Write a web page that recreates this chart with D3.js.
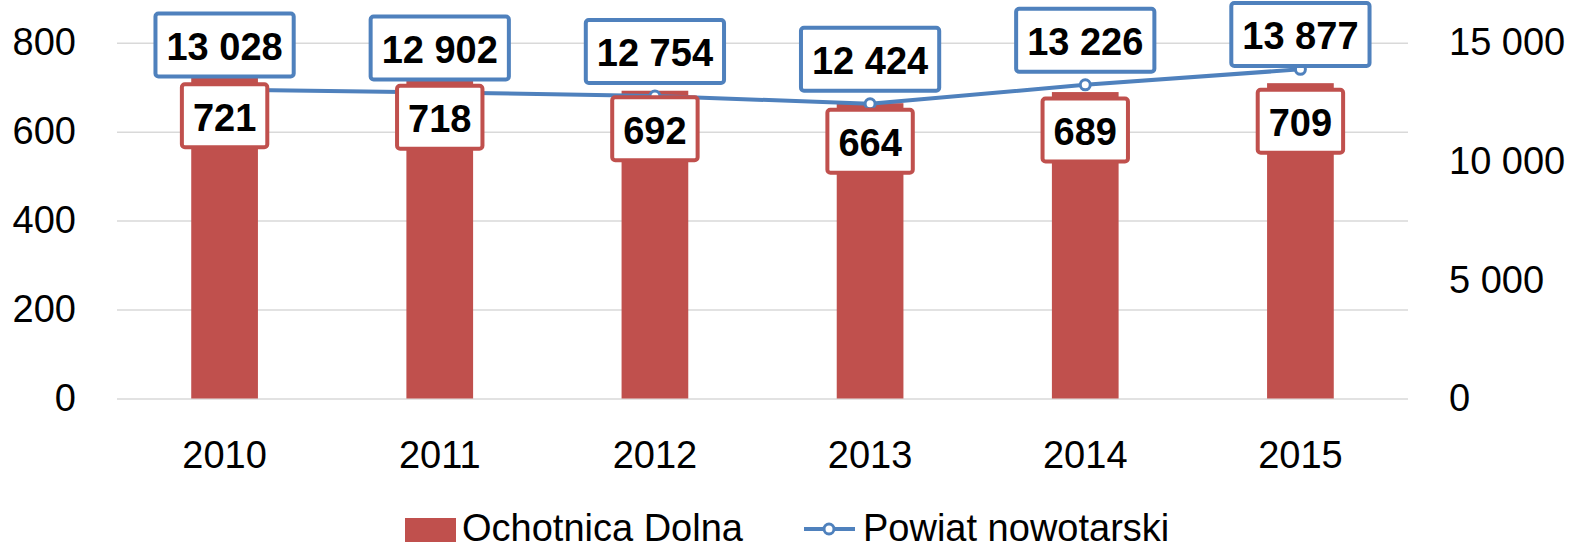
<!DOCTYPE html>
<html>
<head>
<meta charset="utf-8">
<script src="https://cdn.jsdelivr.net/npm/d3@7"></script>
<style>
  body { margin: 0; background: #fff; }
  svg { display: block; font-family: "Liberation Sans", Arial, sans-serif; }
</style>
</head>
<body>
<svg id="chart"></svg>
<script>
// data
const years = ['2010', '2011', '2012', '2013', '2014', '2015'];
const gminaValues = [721, 718, 692, 664, 689, 709];          // Ochotnica Dolna (left axis)
const powiatValues = [13028, 12902, 12754, 12424, 13226, 13877]; // Powiat nowotarski (right axis)
const leftTicks = [0, 200, 400, 600, 800];
const rightTicks = [0, 5000, 10000, 15000];
const seriesNames = ['Ochotnica Dolna', 'Powiat nowotarski'];

const width = 1571, height = 546;
const plot = { left: 117, right: 1408, top: 42.7, bottom: 398.5 };
const red = '#C0504D', blue = '#4F81BD', grid = '#D9D9D9';
const fontSize = 38;

const pl = d3.formatLocale({ decimal: ',', thousands: ' ', grouping: [3], currency: ['', ''] });
const fmt = pl.format(',d');

const svg = d3.select('#chart').attr('width', width).attr('height', height);

// scales
const x = d3.scaleBand().domain(years).range([plot.left, plot.right]).padding(0);
const yLeft = d3.scaleLinear().domain([0, 800]).range([plot.bottom, plot.top]);
const yRight = d3.scaleLinear().domain([0, 15000]).range([plot.bottom, plot.top]);
const barW = x.bandwidth() * 0.31;
const cx = d => x(d) + x.bandwidth() / 2;

// gridlines
svg.append('g')
    .attr('transform', `translate(${plot.left},0)`)
    .call(d3.axisLeft(yLeft).tickValues(leftTicks).tickSize(-(plot.right - plot.left)).tickFormat(''))
    .call(g => g.select('.domain').remove())
    .call(g => g.selectAll('line').attr('stroke', grid).attr('stroke-width', 1.5));

// left axis labels
svg.append('g')
    .attr('transform', `translate(${plot.left},0)`)
    .call(d3.axisLeft(yLeft).tickValues(leftTicks).tickSize(0).tickPadding(41).tickFormat(fmt))
    .call(g => g.select('.domain').remove())
    .call(g => g.selectAll('text').attr('font-size', fontSize).attr('fill', '#000').attr('font-family', null));

// right axis labels
svg.append('g')
    .attr('transform', `translate(${plot.right},0)`)
    .call(d3.axisRight(yRight).tickValues(rightTicks).tickSize(0).tickPadding(41).tickFormat(fmt))
    .call(g => g.select('.domain').remove())
    .call(g => g.selectAll('text').attr('font-size', fontSize).attr('fill', '#000').attr('font-family', null));

// x axis labels
svg.append('g')
    .attr('transform', `translate(0,${plot.bottom})`)
    .call(d3.axisBottom(x).tickSize(0))
    .call(g => g.select('.domain').remove())
    .call(g => g.selectAll('text')
        .attr('font-size', fontSize).attr('fill', '#000').attr('font-family', null)
        .attr('dy', null).attr('y', 468 - plot.bottom));

// bars
svg.append('g')
    .selectAll('rect')
    .data(years)
    .join('rect')
    .attr('x', d => cx(d) - barW / 2)
    .attr('width', barW)
    .attr('y', (d, i) => yLeft(gminaValues[i]))
    .attr('height', (d, i) => plot.bottom - yLeft(gminaValues[i]))
    .attr('fill', red);

// line
const line = d3.line()
    .x(d => cx(d))
    .y((d, i) => yRight(powiatValues[i]));
svg.append('path')
    .datum(years)
    .attr('d', line)
    .attr('fill', 'none')
    .attr('stroke', blue)
    .attr('stroke-width', 4)
    .attr('stroke-linejoin', 'round');

svg.append('g')
    .selectAll('circle')
    .data(years)
    .join('circle')
    .attr('cx', d => cx(d))
    .attr('cy', (d, i) => yRight(powiatValues[i]))
    .attr('r', 5)
    .attr('fill', '#fff')
    .attr('stroke', blue)
    .attr('stroke-width', 3);

// data labels in boxes (kept inside the chart, like the original)
const boxLabel = (g, px, cy, txt, color) => {
    cy = Math.max(cy, 3 + 31.5);
    const t = g.append('text')
        .attr('x', px).attr('y', cy).attr('dy', '0.39em')
        .attr('text-anchor', 'middle')
        .attr('font-size', fontSize).attr('font-weight', 'bold')
        .attr('fill', '#000')
        .text(txt);
    const w = t.node().getComputedTextLength() + 22;
    g.insert('rect', 'text:last-child')
        .attr('x', px - w / 2).attr('y', cy - 31.5)
        .attr('width', w).attr('height', 63)
        .attr('rx', 3)
        .attr('fill', '#fff')
        .attr('stroke', color)
        .attr('stroke-width', 4);
};

const barLabels = svg.append('g');
years.forEach((d, i) => {
    const g = barLabels.append('g');
    boxLabel(g, cx(d), yLeft(gminaValues[i]) + 38, fmt(gminaValues[i]), red);
});

const lineLabels = svg.append('g');
years.forEach((d, i) => {
    const g = lineLabels.append('g');
    boxLabel(g, cx(d), yRight(powiatValues[i]) - 44.5, fmt(powiatValues[i]), blue);
});

// legend
const legend = svg.append('g');
legend.append('rect')
    .attr('x', 405).attr('y', 518).attr('width', 51).attr('height', 24)
    .attr('fill', red);
legend.append('text')
    .attr('x', 462).attr('y', 541)
    .attr('font-size', fontSize).attr('fill', '#000')
    .text(seriesNames[0]);
legend.append('line')
    .attr('x1', 804).attr('x2', 855).attr('y1', 529).attr('y2', 529)
    .attr('stroke', blue).attr('stroke-width', 4);
legend.append('circle')
    .attr('cx', 829).attr('cy', 529).attr('r', 5)
    .attr('fill', '#fff').attr('stroke', blue).attr('stroke-width', 3);
legend.append('text')
    .attr('x', 863).attr('y', 541)
    .attr('font-size', fontSize).attr('fill', '#000')
    .text(seriesNames[1]);
</script>
</body>
</html>
